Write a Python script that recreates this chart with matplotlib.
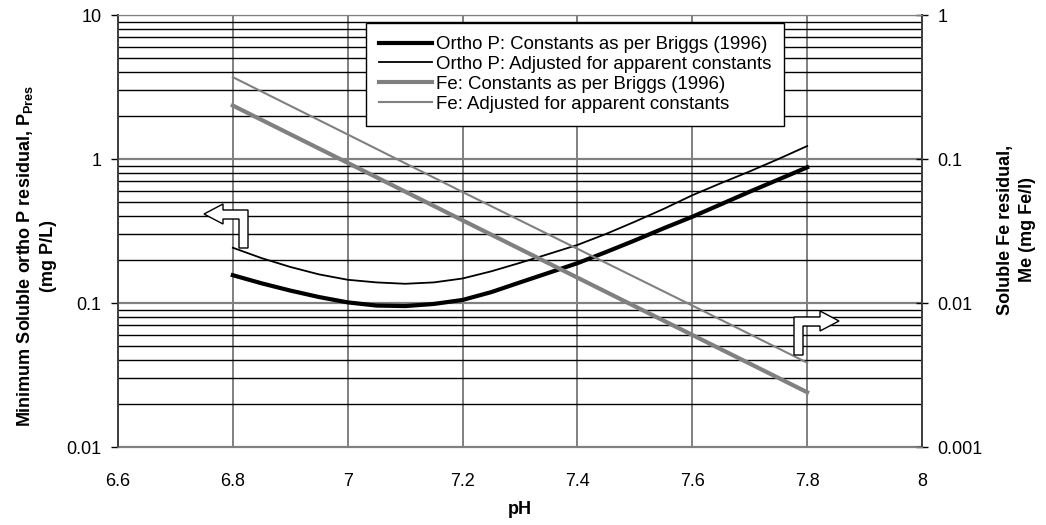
import matplotlib
matplotlib.use('Agg')
import matplotlib.pyplot as plt
from matplotlib.patches import Polygon
from matplotlib.ticker import LogLocator, NullFormatter, FixedLocator, FixedFormatter

plt.rcParams['font.family'] = ['Liberation Sans', 'DejaVu Sans']
plt.rcParams['mathtext.fontset'] = 'custom'
plt.rcParams['mathtext.rm'] = 'Liberation Sans'
plt.rcParams['mathtext.bf'] = 'Liberation Sans:bold'

# data
ph = [6.8, 6.85, 6.9, 6.95, 7.0, 7.05, 7.1, 7.15, 7.2, 7.25, 7.3,
      7.35, 7.4, 7.45, 7.5, 7.55, 7.6, 7.65, 7.7, 7.75, 7.8]
p_briggs = [0.156, 0.137, 0.122, 0.110, 0.101, 0.0960, 0.0952, 0.0985, 0.105, 0.119, 0.139,
            0.162, 0.189, 0.226, 0.272, 0.330, 0.397, 0.485, 0.593, 0.720, 0.875]
p_adjusted = [0.242, 0.205, 0.178, 0.158, 0.145, 0.139, 0.136, 0.139, 0.148, 0.166, 0.190,
              0.219, 0.253, 0.302, 0.367, 0.450, 0.560, 0.680, 0.820, 1.0, 1.23]
ph_fe = [6.8, 7.0, 7.2, 7.4, 7.6, 7.8]
fe_briggs = [0.235, 0.094, 0.0375, 0.015, 0.006, 0.0024]
fe_adjusted = [0.37, 0.148, 0.059, 0.0238, 0.0096, 0.00385]

x_ticks = [6.6, 6.8, 7.0, 7.2, 7.4, 7.6, 7.8, 8.0]
x_labels = ['6.6', '6.8', '7', '7.2', '7.4', '7.6', '7.8', '8']
left_ticks = [0.01, 0.1, 1, 10]
left_labels = ['0.01', '0.1', '1', '10']
right_ticks = [0.001, 0.01, 0.1, 1]
right_labels = ['0.001', '0.01', '0.1', '1']

W, H = 1046, 525
fig = plt.figure(figsize=(W / 100, H / 100), dpi=100)
ax = fig.add_axes([118 / W, 1 - 447 / H, 804 / W, 432 / H])
ax2 = ax.twinx()

ax.set_yscale('log')
ax.set_xlim(6.6, 8.0)
ax.set_ylim(0.01, 10)
ax2.set_yscale('log')
ax2.set_ylim(0.001, 1)

# grid: gray verticals and decades, black minor horizontals
ax.yaxis.set_minor_locator(LogLocator(base=10, subs=range(2, 10)))
ax.yaxis.set_minor_formatter(NullFormatter())
ax.grid(which='minor', axis='y', color='black', linewidth=1.0)
ax.grid(which='major', axis='y', color='#808080', linewidth=1.6)
ax.grid(which='major', axis='x', color='#808080', linewidth=1.4)
ax.set_axisbelow(True)

ax.xaxis.set_major_locator(FixedLocator(x_ticks))
ax.xaxis.set_major_formatter(FixedFormatter(x_labels))
ax.yaxis.set_major_locator(FixedLocator(left_ticks))
ax.yaxis.set_major_formatter(FixedFormatter(left_labels))
ax2.yaxis.set_major_locator(FixedLocator(right_ticks))
ax2.yaxis.set_major_formatter(FixedFormatter(right_labels))
ax2.yaxis.set_minor_locator(FixedLocator([]))

ax.tick_params(axis='x', length=0, pad=19, labelsize=13)
ax.tick_params(axis='y', which='major', length=5, width=1, direction='out', pad=7, labelsize=13)
ax.tick_params(axis='y', which='minor', length=0)
ax2.tick_params(axis='y', which='major', length=8, width=1, direction='inout', pad=7, labelsize=13)

for a in (ax, ax2):
    a.spines['top'].set_color('#808080')
    a.spines['bottom'].set_color('#808080')
    a.spines['left'].set_color('#404040')
    a.spines['right'].set_color('#404040')
    a.spines['left'].set_linewidth(1.3)
    a.spines['right'].set_linewidth(1.3)

l1, = ax.plot(ph, p_briggs, color='black', linewidth=3, zorder=4)
l2, = ax.plot(ph, p_adjusted, color='black', linewidth=1.3, zorder=4)
l3, = ax2.plot(ph_fe, fe_briggs, color='#808080', linewidth=3, zorder=3)
l4, = ax2.plot(ph_fe, fe_adjusted, color='#808080', linewidth=1.5, zorder=3)

leg = ax2.legend([l1, l2, l3, l4],
                 ['Ortho P: Constants as per Briggs (1996)',
                  'Ortho P: Adjusted for apparent constants',
                  'Fe: Constants as per Briggs (1996)',
                  'Fe: Adjusted for apparent constants'],
                 loc='upper left', bbox_to_anchor=((366 - 118) / 804, (447 - 23) / 432),
                 borderaxespad=0, fancybox=False, framealpha=1, edgecolor='black',
                 fontsize=13.4, handlelength=2.85, handletextpad=0.2, labelspacing=0.15,
                 borderpad=0.7)
leg.get_frame().set_linewidth(1.0)


def px(points):
    return [(x / W, 1 - y / H) for x, y in points]


# bent block arrows pointing to each axis
left_arrow = [(204, 214), (223, 204), (223, 210), (248, 210), (248, 248),
              (239, 248), (239, 219), (223, 219), (223, 224)]
right_arrow = [(794, 355), (794, 317), (820, 317), (820, 311), (839, 321),
               (820, 331), (820, 326), (803, 326), (803, 355)]
for pts in (left_arrow, right_arrow):
    fig.patches.append(Polygon(px(pts), closed=True, facecolor='white',
                               edgecolor='black', linewidth=1.0,
                               transform=fig.transFigure, zorder=10))

ax.set_xlabel('pH', fontsize=13, fontweight='bold', labelpad=8)
ax.set_ylabel('Minimum Soluble ortho P residual, P$_{\\mathbf{Pres}}$\n(mg P/L)',
              fontsize=13, fontweight='bold', linespacing=1.4)
ax.yaxis.set_label_coords((57 - 118) / 804, (447 - 256) / 432)
ax2.set_ylabel('Soluble Fe residual,\nMe (mg Fe/l)', fontsize=13,
               fontweight='bold', linespacing=1.4)
ax2.yaxis.set_label_coords((997 - 118) / 804, (447 - 230) / 432)

plt.savefig('out.png', dpi=100)
